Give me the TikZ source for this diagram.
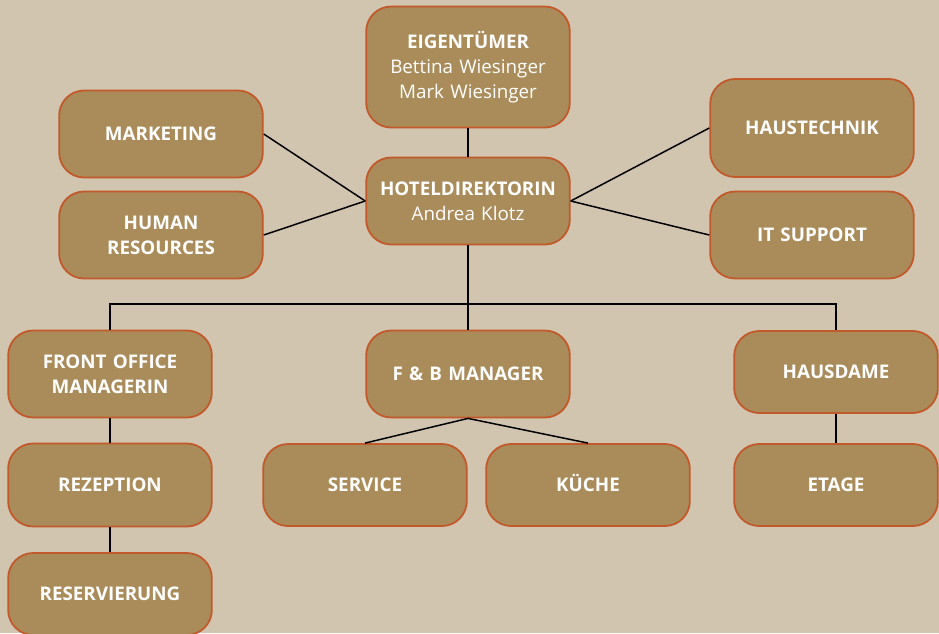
\documentclass[tikz,border=0pt]{standalone}
\usepackage{fontspec}
\setmainfont{Open Sans}
\definecolor{bg}{HTML}{D2C5B0}
\definecolor{boxfill}{HTML}{AA8C5A}
\definecolor{boxline}{HTML}{C2592A}
\begin{document}
\begin{tikzpicture}
	[
		x=1pt, y=-1pt,
		font=\fontsize{18.8}{25}\selectfont,
		link/.style={draw=black, line width=1.5pt}
	]
	
	\tikzstyle{Box} = [
		rectangle,
		rounded corners=25pt,
		minimum width=203pt,
		minimum height=87pt,
		text width=197pt,
		align=center,
		text=white,
		draw=boxline,
		line width=1.8pt,
		fill=boxfill
	]
	
	\fill[bg] (0,0) rectangle (939,633);
	\useasboundingbox (0,0) rectangle (939,633);
	
	% top
	\node [Box, minimum height=121pt] (owner) at (468,67) {\textbf{EIGENTÜMER}\\Bettina Wiesinger\\Mark Wiesinger};
	\node [Box] (director) at (468,201) {\textbf{HOTELDIREKTORIN}\\Andrea Klotz};
	
	% staff departments
	\node [Box] (marketing) at (161,134) {\textbf{MARKETING}};
	\node [Box] (hr) at (161,235) {\textbf{HUMAN\\RESOURCES}};
	\node [Box, minimum height=98pt] (technik) at (812,128) {\textbf{HAUSTECHNIK}};
	\node [Box] (it) at (812,235) {\textbf{IT SUPPORT}};
	
	% line departments
	\node [Box] (frontoffice) at (110,374) {\textbf{FRONT OFFICE\\MANAGERIN}};
	\node [Box] (fb) at (468,374) {\textbf{F \& B MANAGER}};
	\node [Box, minimum height=82pt] (hausdame) at (836,372) {\textbf{HAUSDAME}};
	
	\node [Box, minimum height=83pt] (rezeption) at (110,485) {\textbf{REZEPTION}};
	\node [Box, minimum height=82pt] (service) at (365,485) {\textbf{SERVICE}};
	\node [Box, minimum height=82pt] (kueche) at (588,485) {\textbf{K\smash{Ü}CHE}};
	\node [Box, minimum height=82pt] (etage) at (836,485) {\textbf{ETAGE}};
	\node [Box, minimum height=82pt] (reservierung) at (110,594) {\textbf{RESERVIERUNG}};
	
	% connectors
	\coordinate (bus) at (468,304);
	\draw [link] (owner) -- (director);
	\draw [link] (marketing.east) -- (director.west);
	\draw [link] (hr.east) -- (director.west);
	\draw [link] (technik.west) -- (director.east);
	\draw [link] (it.west) -- (director.east);
	\draw [link] (director.south) -- (bus);
	\draw [link] (frontoffice.north) |- (bus) -| (hausdame.north);
	\draw [link] (bus) -- (fb.north);
	\draw [link] (fb.south) -- (service.north);
	\draw [link] (fb.south) -- (kueche.north);
	\draw [link] (frontoffice) -- (rezeption);
	\draw [link] (rezeption) -- (reservierung);
	\draw [link] (hausdame) -- (etage);
\end{tikzpicture}
\end{document}
